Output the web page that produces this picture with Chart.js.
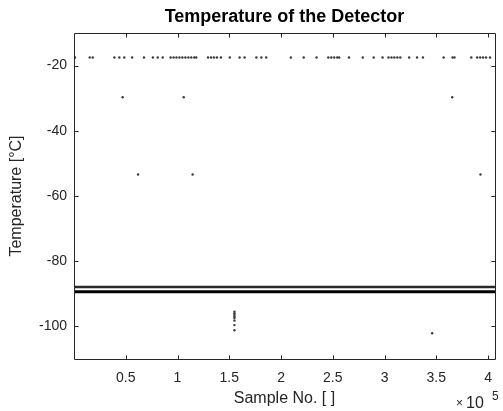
<!DOCTYPE html>
<html>
<head>
<meta charset="utf-8">
<title>Temperature of the Detector</title>
<script src="https://cdn.jsdelivr.net/npm/chart.js@4.4.0/dist/chart.umd.min.js"></script>
<style>
  html, body { margin: 0; padding: 0; background: #fff; }
  canvas { display: block; }
</style>
</head>
<body>
<canvas id="canvas1" width="503" height="411"></canvas>
<script>
// values: sample number / temperature in degC
var chartTitle = 'Temperature of the Detector';
var xTitle = 'Sample No. [ ]';
var yTitle = 'Temperature [\u00B0C]';

var sampleTicks = [50000, 100000, 150000, 200000, 250000, 300000, 350000, 400000];
var tempTicks = [-100, -80, -60, -40, -20];

// the two dense bands near -88 / -89 degC
var bandSamples = [0, 50000, 100000, 150000, 200000, 250000, 300000, 350000, 406700];
var bandUpper = [-87.9, -87.9, -87.9, -87.9, -87.9, -87.9, -87.9, -87.9, -87.9];
var bandLower = [-89.4, -89.4, -89.4, -89.4, -89.4, -89.4, -89.4, -89.4, -89.4];

// sparse readings at about -17.5 degC
var topSamples = [1000, 15200, 18100, 39000, 43800, 48600, 56200, 67600, 76200, 80900, 85700,
  93300, 96200, 99000, 101900, 104700, 107600, 110500, 113300, 116200, 118100, 129500, 132400,
  135200, 138100, 141900, 150500, 160000, 164800, 176200, 181000, 185700, 209500, 221900, 234300,
  245700, 248600, 251400, 254300, 256200, 265700, 279000, 289500, 298100, 303800, 306700, 309500,
  312400, 315200, 323800, 331400, 337100, 357100, 365700, 367600, 383800, 389500, 392400, 395200,
  398100, 401900];
var topTemp = -17.5;

// single outliers
var outSamples = [47000, 106000, 365400, 61900, 114600, 392700, 155000, 155000, 155000, 155000, 155000, 155000, 155000, 155000, 346000];
var outTemps = [-29.7, -29.7, -29.7, -53.4, -53.4, -53.4, -95.5, -96.0, -96.5, -97.0, -97.4, -98.2, -99.6, -101.2, -102.1];

function pairs(xs, ys) {
  return xs.map(function(x, i) {
    return {x: x, y: Array.isArray(ys) ? ys[i] : ys};
  });
}

var fontFamily = '"Liberation Sans", Arial, Helvetica, sans-serif';
var axisColor = '#262626';

var matlabBox = {
  id: 'matlabBox',
  afterDatasetsDraw: function(chart) {
    var ctx = chart.ctx, a = chart.chartArea;
    var xs = chart.scales.x, ys = chart.scales.y;
    var L = Math.round(a.left) + 0.5, R = Math.round(a.right) + 0.5;
    var T = Math.round(a.top) + 0.5, B = Math.round(a.bottom) + 0.5;
    ctx.save();
    ctx.strokeStyle = axisColor;
    ctx.lineWidth = 1;
    ctx.beginPath();
    ctx.moveTo(L, T); ctx.lineTo(R, T); ctx.lineTo(R, B); ctx.lineTo(L, B); ctx.closePath();
    sampleTicks.forEach(function(v) {
      var px = Math.round(xs.getPixelForValue(v)) + 0.5;
      ctx.moveTo(px, B); ctx.lineTo(px, B - 4);
      ctx.moveTo(px, T); ctx.lineTo(px, T + 4);
    });
    tempTicks.forEach(function(v) {
      var py = Math.round(ys.getPixelForValue(v)) + 0.5;
      ctx.moveTo(L, py); ctx.lineTo(L + 4, py);
      ctx.moveTo(R, py); ctx.lineTo(R - 4, py);
    });
    ctx.stroke();

    // title over the plot box
    ctx.fillStyle = '#000';
    ctx.textAlign = 'center';
    ctx.textBaseline = 'middle';
    ctx.font = 'bold 18px ' + fontFamily;
    ctx.fillText(chartTitle, (a.left + a.right) / 2, 17);

    // x exponent
    ctx.fillStyle = axisColor;
    ctx.textAlign = 'left';
    ctx.textBaseline = 'alphabetic';
    ctx.font = '12px ' + fontFamily;
    ctx.fillText('\u00D7', 456, 407);
    ctx.font = '16px ' + fontFamily;
    ctx.fillText('10', 466, 408);
    ctx.font = '12px ' + fontFamily;
    ctx.fillText('5', 492, 400);
    ctx.restore();
  }
};

new Chart(document.getElementById('canvas1'), {
  type: 'scatter',
  data: {
    datasets: [{
      data: pairs(bandSamples, bandUpper),
      showLine: true,
      borderColor: '#2a2a2a',
      borderWidth: 2.5,
      pointRadius: 0
    }, {
      data: pairs(bandSamples, bandLower),
      showLine: true,
      borderColor: '#000',
      borderWidth: 3,
      pointRadius: 0
    }, {
      data: pairs(topSamples, topTemp),
      pointRadius: 1.2,
      pointBorderWidth: 0,
      backgroundColor: '#3a3a3a'
    }, {
      data: pairs(outSamples, outTemps),
      pointRadius: 1.2,
      pointBorderWidth: 0,
      backgroundColor: '#3a3a3a'
    }]
  },
  options: {
    responsive: false,
    animation: false,
    devicePixelRatio: 1,
    layout: { padding: { top: 33, right: 3, left: 0, bottom: 0 } },
    plugins: {
      legend: { display: false },
      tooltip: { enabled: false }
    },
    scales: {
      x: {
        type: 'linear',
        min: 0,
        max: 406700,
        grid: { display: false, drawTicks: false },
        border: { display: false },
        afterBuildTicks: function(scale) {
          scale.ticks = sampleTicks.map(function(v) { return {value: v}; });
        },
        afterFit: function(scale) { scale.height = 52; },
        ticks: {
          padding: 11,
          maxRotation: 0,
          autoSkip: false,
          color: axisColor,
          font: { family: fontFamily, size: 14 },
          callback: function(value) { return String(value / 100000); }
        },
        title: {
          display: true,
          text: xTitle,
          color: axisColor,
          font: { family: fontFamily, size: 16 },
          padding: { top: 0, bottom: 3 }
        }
      },
      y: {
        type: 'linear',
        min: -110,
        max: -10,
        grid: { display: false, drawTicks: false },
        border: { display: false },
        afterBuildTicks: function(scale) {
          scale.ticks = tempTicks.map(function(v) { return {value: v}; });
        },
        afterFit: function(scale) { scale.width = 74; },
        ticks: {
          padding: 7,
          autoSkip: false,
          color: axisColor,
          font: { family: fontFamily, size: 14 }
        },
        title: {
          display: true,
          text: yTitle,
          color: axisColor,
          font: { family: fontFamily, size: 16 },
          padding: { top: 7, bottom: 0 }
        }
      }
    }
  },
  plugins: [matlabBox]
});
</script>
</body>
</html>
